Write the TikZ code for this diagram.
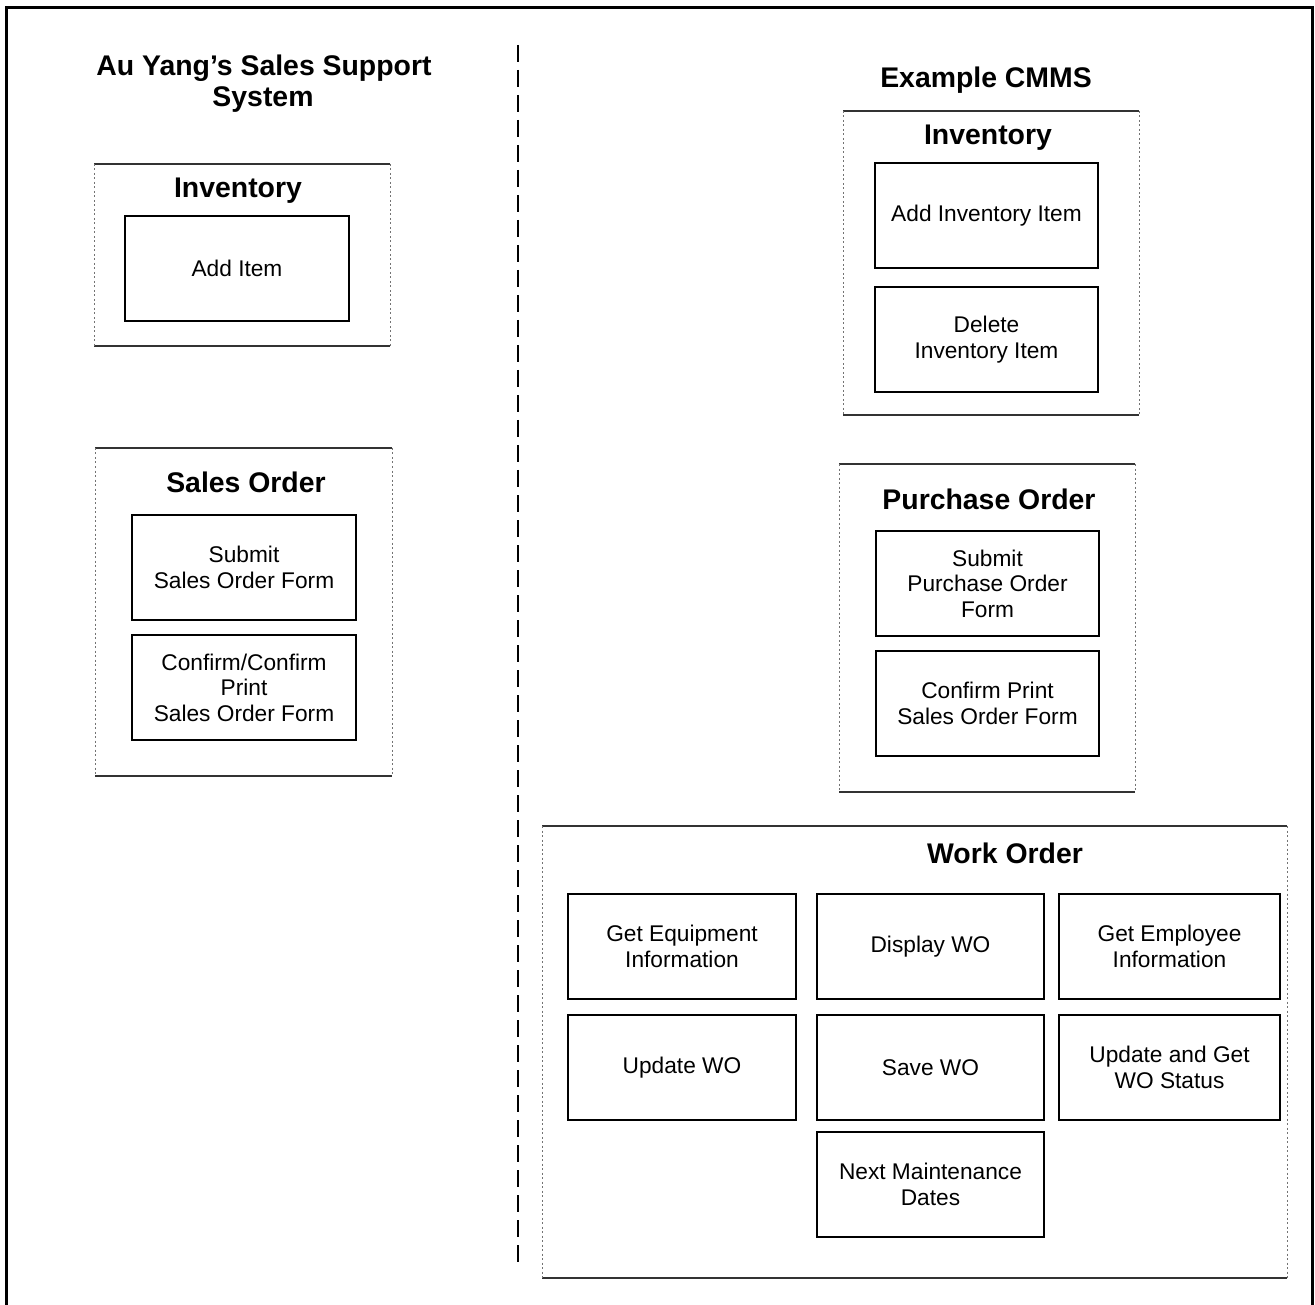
\documentclass[tikz,border=0pt]{standalone}
\usepackage{fontspec}
\setmainfont{Liberation Sans}
\begin{document}
\begin{tikzpicture}[x=1pt,y=-1pt,
  panel/.style={rectangle,draw=none,inner sep=0pt,outer sep=0pt},
  panelrule/.style={draw=black!80,line width=1.1pt},
  panelside/.style={draw=black!55,line width=0.9pt,dash pattern=on 2pt off 2.5pt},
  task/.style={rectangle,draw=black,line width=1.8pt,inner sep=2pt,outer sep=0pt,
    minimum height=105pt,align=center,font=\fontsize{22.7}{25.5}\selectfont},
  heading/.style={anchor=base,inner sep=0pt,align=center,font=\fontsize{28.4}{31}\selectfont\bfseries}]
\useasboundingbox (0,0) rectangle (1315,1305);

% outer frame, open at the bottom
\coordinate (fbl) at (6,1305);
\coordinate (ftl) at (6,8);
\coordinate (ftr) at (1312,8);
\coordinate (fbr) at (1312,1305);
\draw[line width=3pt] (fbl) -- (ftl) -- (ftr) -- (fbr);

% divider between the two systems
\coordinate (dtop) at (518,45);
\coordinate (dbot) at (518,1262);
\draw[line width=2.5pt,dash pattern=on 17pt off 8pt] (dtop) -- (dbot);

% ---- left: sales support system ----
\node[heading] (ltitle) at (264,76) {Au Yang's Sales Support};
\node[heading] (ltitle2) at (263,107) {System};

\node[panel,minimum width=296pt,minimum height=182pt] (invA) at (242,255) {};
\node[heading] (invAt) at (238,198) {Inventory};
\node[task,minimum width=224pt] (addItem) at (237,268.5) {Add Item};

\node[panel,minimum width=297pt,minimum height=328pt] (salesA) at (243.5,612) {};
\node[heading] (salesAt) at (246,493) {Sales Order};
\node[task,minimum width=224pt] (submitSO) at (244,567.5) {Submit\\Sales Order Form};
\node[task,minimum width=224pt] (confirmSO) at (244,687.5) {Confirm/Confirm\\Print\\Sales Order Form};

% ---- right: example CMMS ----
\node[heading] (rtitle) at (986,88) {Example CMMS};

\node[panel,minimum width=296pt,minimum height=304pt] (invB) at (991,263) {};
\node[heading] (invBt) at (988,145) {Inventory};
\node[task,minimum width=223pt] (addInv) at (986.5,215.5) {Add Inventory Item};
\node[task,minimum width=223pt] (delInv) at (986.5,339.5) {Delete\\Inventory Item};

\node[panel,minimum width=296pt,minimum height=328pt] (purB) at (987,628) {};
\node[heading] (purBt) at (989,509) {Purchase Order};
\node[task,minimum width=223pt] (submitPO) at (987.5,583.5) {Submit\\Purchase Order\\Form};
\node[task,minimum width=223pt] (confirmPO) at (987.5,703.5) {Confirm Print\\Sales Order Form};

\node[panel,minimum width=745pt,minimum height=452pt] (work) at (914.5,1052) {};
\node[heading] (workt) at (1005,863) {Work Order};
\node[task,minimum width=228pt] (getEquip) at (682,946.5) {Get Equipment\\Information};
\node[task,minimum width=227pt] (dispWO) at (930.5,946.5) {Display WO};
\node[task,minimum width=221pt] (getEmp) at (1169.5,946.5) {Get Employee\\Information};
\node[task,minimum width=228pt] (updWO) at (682,1067.5) {Update WO};
\node[task,minimum width=227pt] (saveWO) at (930.5,1067.5) {Save WO};
\node[task,minimum width=221pt] (statWO) at (1169.5,1067.5) {Update and Get\\WO Status};
\node[task,minimum width=227pt] (nextMaint) at (930.5,1184.5) {Next Maintenance\\Dates};

% container outlines: firm top and bottom rules, faint dotted sides
\foreach \c in {invA,salesA,invB,purB,work}{
  \draw[panelrule] (\c.north west) -- (\c.north east) (\c.south west) -- (\c.south east);
  \draw[panelside] (\c.north west) -- (\c.south west) (\c.north east) -- (\c.south east);
}
\end{tikzpicture}
\end{document}
